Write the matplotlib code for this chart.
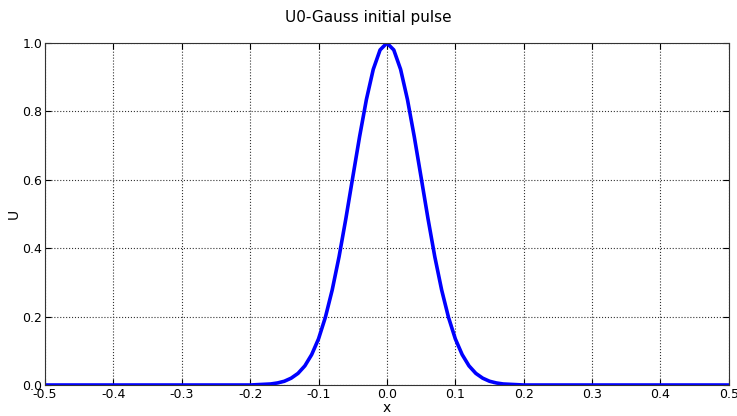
import matplotlib
matplotlib.use("Agg")
import matplotlib.pyplot as plt

x_right = [0.00, 0.01, 0.02, 0.03, 0.04, 0.05, 0.06, 0.07, 0.08, 0.09, 0.10,
           0.11, 0.12, 0.13, 0.14, 0.15, 0.16, 0.17, 0.18, 0.19, 0.20, 0.50]
u_right = [1.000, 0.980, 0.923, 0.835, 0.726, 0.607, 0.487, 0.375, 0.278, 0.198, 0.135,
           0.089, 0.056, 0.034, 0.020, 0.011, 0.006, 0.003, 0.002, 0.001, 0.000, 0.000]

x_vals = [-v for v in x_right[::-1]] + x_right[1:]
u_vals = u_right[::-1] + u_right[1:]

x_ticks = [-0.5, -0.4, -0.3, -0.2, -0.1, 0.0, 0.1, 0.2, 0.3, 0.4, 0.5]
y_ticks = [0.0, 0.2, 0.4, 0.6, 0.8, 1.0]

fig = plt.figure(figsize=(7.37, 4.16), dpi=100)
ax = fig.add_axes([0.061, 0.0745, 0.928, 0.822])
ax.plot(x_vals, u_vals, color='#0000ff', lw=2.6)
ax.set_xlim(-0.5, 0.5)
ax.set_ylim(0.0, 1.0)
ax.set_xticks(x_ticks)
ax.set_yticks(y_ticks)
ax.set_xticklabels([f"{t:.1f}" for t in x_ticks])
ax.set_yticklabels([f"{t:.1f}" for t in y_ticks])
ax.tick_params(direction='in', labelsize=9, length=4, colors='black', pad=2)
ax.tick_params(top=True, right=True)
ax.grid(True, color='#333333', linestyle=':', linewidth=0.8)
for s in ax.spines.values():
    s.set_color('#333333')
ax.set_xlabel('x', fontsize=10, labelpad=0)
ax.set_ylabel('U', fontsize=10, labelpad=1)
fig.suptitle('U0-Gauss initial pulse', fontsize=11, y=0.975)
fig.savefig('out.png', dpi=100)
